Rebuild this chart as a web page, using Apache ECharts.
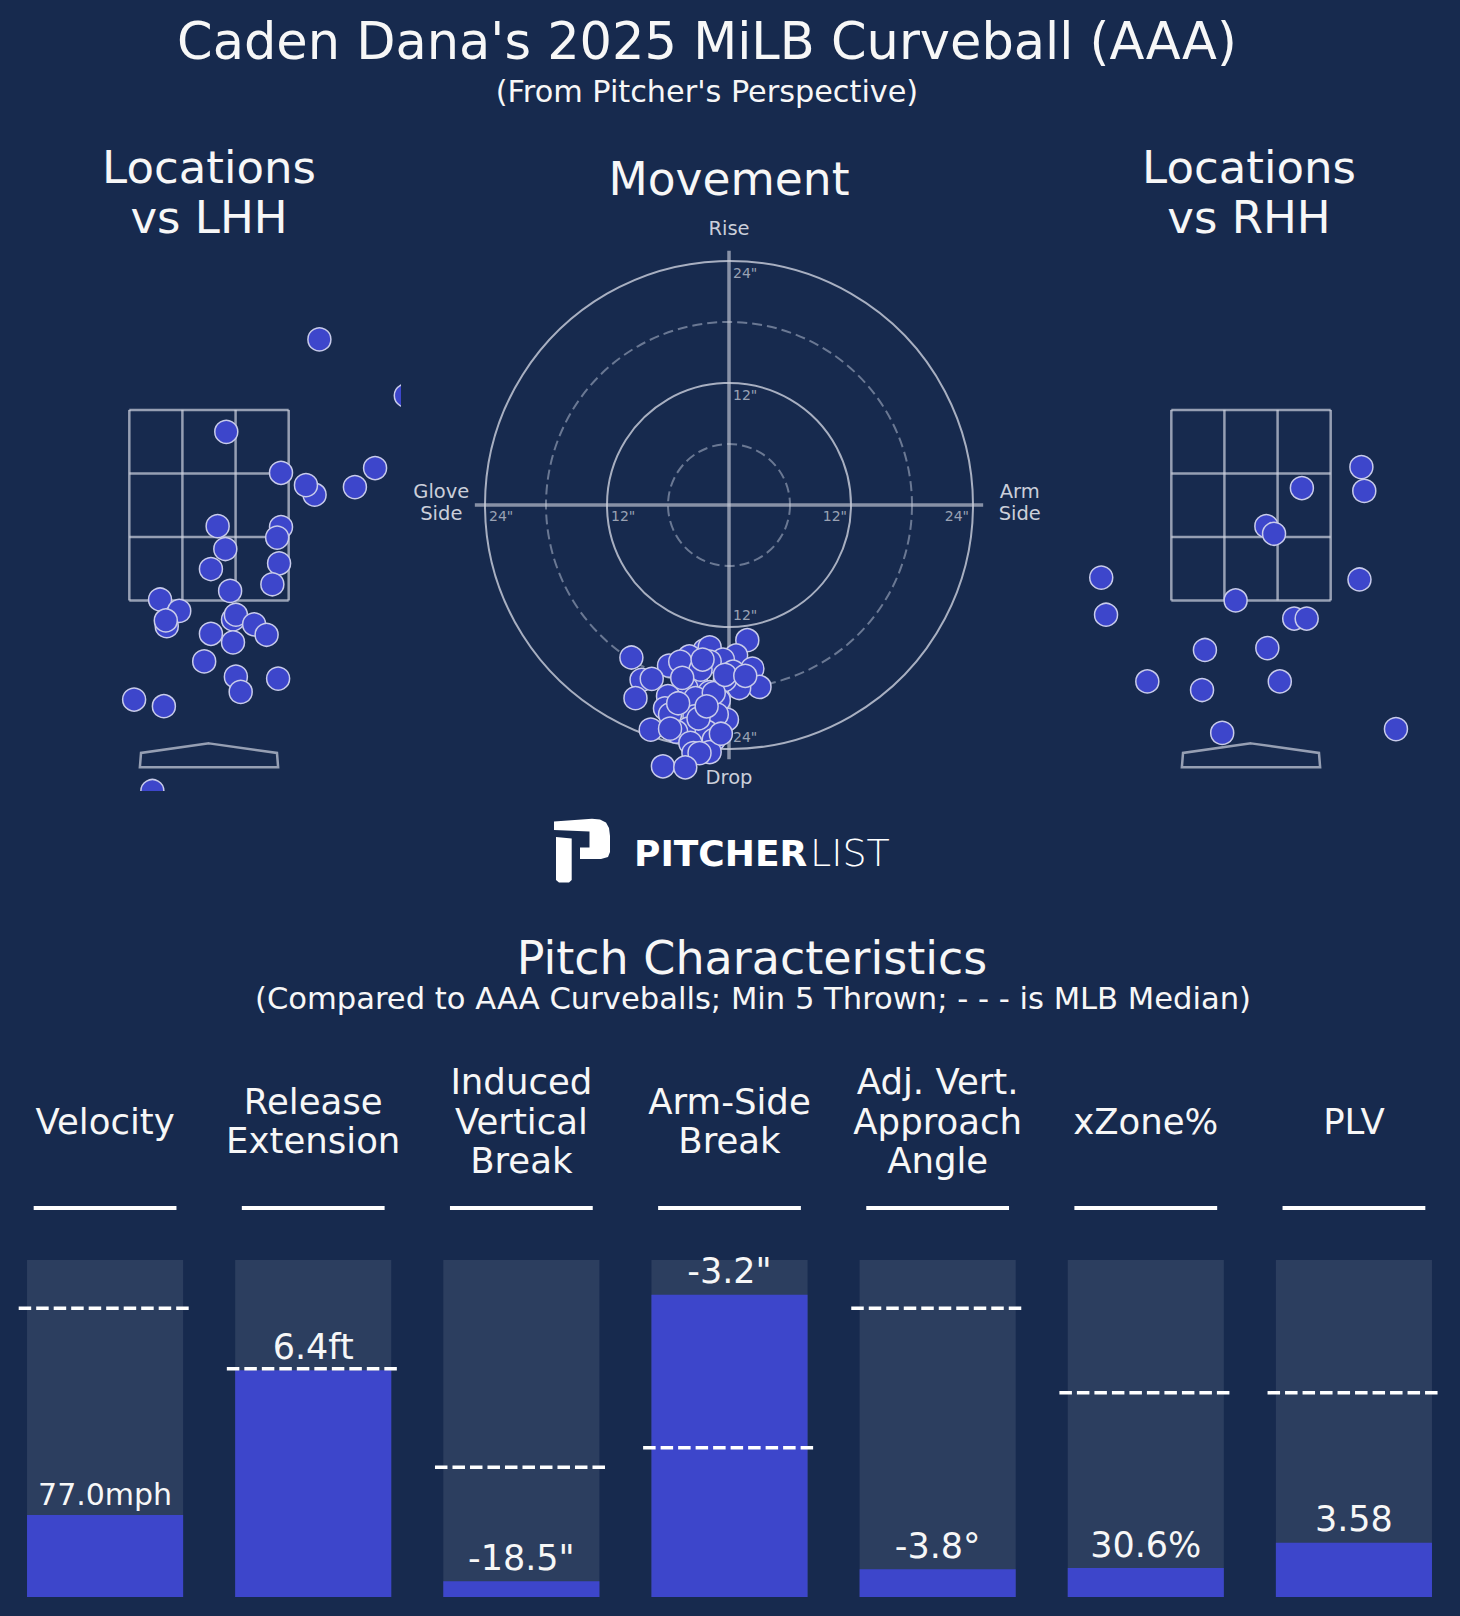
<!DOCTYPE html>
<html>
<head>
<meta charset="utf-8">
<script src="https://cdn.jsdelivr.net/npm/echarts@6/dist/echarts.min.js"></script>
<style>
html, body { margin: 0; padding: 0; background: #172a4e; }
#main { width: 1460px; height: 1616px; }
</style>
</head>
<body>
<div id="main"></div>
<script>
// pitch locations vs LHH / RHH (feet, pitcher's view)
var lhhX = [1.15, 2.05, 0.18, 0.75, 1.10, 1.01, 1.52, 1.73, 0.09, 0.75, 0.71, 0.17, 0.73, 0.02, 0.66, 0.22, -0.51, -0.31, -0.44, -0.45, 0.25, 0.28, 0.47, 0.60, 0.02, 0.25, -0.05, 0.28, 0.72, 0.33, -0.78, -0.47, -0.59];
var lhhY = [4.24, 3.65, 3.27, 2.84, 2.61, 2.71, 2.69, 2.89, 2.28, 2.27, 2.16, 2.04, 1.89, 1.83, 1.67, 1.60, 1.51, 1.39, 1.23, 1.29, 1.30, 1.35, 1.25, 1.14, 1.15, 1.06, 0.86, 0.70, 0.68, 0.54, 0.46, 0.39, -0.50];
var rhhX = [1.15, 1.18, 0.53, 0.16, 0.24, -1.56, 1.13, -1.51, -0.16, 0.45, 0.58, -0.48, 0.17, -1.08, -0.51, 0.30, -0.30, 1.51];
var rhhY = [2.90, 2.65, 2.68, 2.28, 2.20, 1.74, 1.72, 1.35, 1.50, 1.31, 1.31, 0.98, 1.00, 0.65, 0.56, 0.65, 0.11, 0.15];

// movement (inches): horizontal break (arm side +), induced vertical break
var moveHB = [1.8, -9.6, -2.4, -1.9, 0.7, -3.9, -0.6, 2.3, -5.9, -1.9, -4.8, 0.4, -8.6, -7.6, 3.0, 1.0, -0.4, -3.2, -1.9, -4.2, -6.0, -9.2, -1.0, -3.3, -6.3, -5.8, -3.4, -0.2, -1.2, -4.0, -7.7, -5.2, -2.2, -1.5, -3.8, -3.5, -1.9, -2.9, -6.5, -4.3, -5.8, -1.5, -0.4, -2.8, -3.0, -4.6, -2.2, -0.8, -2.6, -5.0, 1.6];
var moveIVB = [-13.3, -15.0, -14.3, -14.0, -14.8, -14.9, -15.2, -16.1, -15.8, -15.4, -15.4, -16.4, -17.2, -17.1, -17.9, -18.0, -17.2, -17.6, -18.4, -18.0, -18.8, -19.0, -19.2, -19.0, -20.0, -20.6, -20.8, -21.1, -20.6, -22.0, -22.1, -22.3, -22.3, -23.1, -23.4, -24.4, -24.3, -24.4, -25.7, -25.8, -22.0, -18.5, -16.7, -16.2, -21.0, -17.0, -19.8, -22.5, -15.2, -19.5, -16.8];
var ringRadii = [6, 12, 18, 24];
var ringTicks = [12, 24];

// strike zone and plate (feet)
var zoneX = [-0.83, -0.277, 0.277, 0.83];
var zoneY = [1.5, 2.167, 2.833, 3.5];
var plateX = [0, 0.708, 0.72, -0.72, -0.708];
var plateY = [0, -0.1, -0.25, -0.25, -0.1];

// pitch characteristics: percentile of bar, MLB median percentile, shown value
var statNames = ['Velocity', 'Release\nExtension', 'Induced\nVertical\nBreak', 'Arm-Side\nBreak', 'Adj. Vert.\nApproach\nAngle', 'xZone%', 'PLV'];
var statPct = [0.243, 0.673, 0.047, 0.897, 0.082, 0.086, 0.161];
var statMedian = [0.857, 0.677, 0.385, 0.443, 0.857, 0.606, 0.606];
var statLabels = ['77.0mph', '6.4ft', '-18.5"', '-3.2"', '-3.8\u00b0', '30.6%', '3.58'];

var BG = '#172a4e';
var POINT = '#3d46cb';
var EDGE = '#c8cbea';
var ZONE = 'rgba(205,209,222,0.7)';
var TXT = '#f7f7f7';
var FONT = '"DejaVu Sans", sans-serif';

var myChart = echarts.init(document.getElementById('main'), null, { renderer: 'svg', width: 1460, height: 1616 });

function pairs(xs, ys) {
    return xs.map(function (x, i) { return [x, ys[i]]; });
}

function txt(s, x, y, size, extra) {
    var st = {
        text: s, fill: TXT, fontSize: size, fontFamily: FONT,
        textAlign: 'center', align: 'center', textVerticalAlign: 'middle', verticalAlign: 'middle'
    };
    for (var k in (extra || {})) st[k] = extra[k];
    return { type: 'text', x: x, y: y, silent: true, style: st };
}

// dots drawn as circles so they get cut at the panel edge
function dotSeries(idx, xs, ys) {
    return {
        type: 'custom', xAxisIndex: idx, yAxisIndex: idx, clip: true, z: 5, silent: true,
        data: pairs(xs, ys),
        renderItem: function (params, api) {
            var c = api.coord([api.value(0), api.value(1)]);
            return {
                type: 'circle', shape: { cx: c[0], cy: c[1], r: 11.5 },
                style: { fill: POINT, stroke: EDGE, lineWidth: 1.5 }
            };
        }
    };
}

function zoneSeries(idx) {
    return {
        type: 'custom', xAxisIndex: idx, yAxisIndex: idx, clip: false, z: 2, silent: true,
        data: [[0, 0]],
        renderItem: function (params, api) {
            var kids = [];
            function seg(a, b) {
                var p = api.coord(a), q = api.coord(b);
                kids.push({ type: 'line', shape: { x1: p[0], y1: p[1], x2: q[0], y2: q[1] },
                    style: { stroke: ZONE, lineWidth: 2.5 } });
            }
            zoneX.forEach(function (x) { seg([x, zoneY[0]], [x, zoneY[3]]); });
            zoneY.forEach(function (y) { seg([zoneX[0], y], [zoneX[3], y]); });
            kids.push({
                type: 'polygon',
                shape: { points: pairs(plateX, plateY).map(function (p) { return api.coord(p); }) },
                style: { fill: 'none', stroke: ZONE, lineWidth: 2.5 }
            });
            return { type: 'group', children: kids };
        }
    };
}

// texts of the movement plot, anchored in inches
var moveText = [];
ringTicks.forEach(function (t) {
    var s = t + '"';
    moveText.push({ at: [-t, 0], s: s, dx: 4, dy: 11, align: 'left' });
    moveText.push({ at: [t, 0], s: s, dx: -4, dy: 11, align: 'right' });
    moveText.push({ at: [0, t], s: s, dx: 4, dy: 12, align: 'left' });
    moveText.push({ at: [0, -t], s: s, dx: 4, dy: -12, align: 'left' });
});
var tickCount = moveText.length;
moveText.push({ at: [0, 27.2], s: 'Rise', dx: 0, dy: 0, align: 'center' });
moveText.push({ at: [0, -26.8], s: 'Drop', dx: 0, dy: 0, align: 'center' });
moveText.push({ at: [-28.3, 0.2], s: 'Glove\nSide', dx: 0, dy: 0, align: 'center' });
moveText.push({ at: [28.6, 0.2], s: 'Arm\nSide', dx: 0, dy: 0, align: 'center' });

var option = {
    backgroundColor: BG,
    animation: false,
    textStyle: { fontFamily: FONT },
    grid: [
        { left: 17, top: 267, width: 384, height: 524 },
        { left: 424, top: 200, width: 610, height: 610 },
        { left: 1059, top: 267, width: 384, height: 524 },
        { left: 1, top: 1260, width: 1457, height: 337 }
    ],
    xAxis: [
        { gridIndex: 0, type: 'value', min: -2, max: 2, show: false },
        { gridIndex: 1, type: 'value', min: -30, max: 30, show: false },
        { gridIndex: 2, type: 'value', min: -2, max: 2, show: false },
        {
            gridIndex: 3, type: 'category', data: statNames, position: 'top',
            axisLine: { show: false }, axisTick: { show: false }, splitLine: { show: false },
            axisLabel: {
                margin: 139, verticalAlign: 'middle', fontSize: 35.5, lineHeight: 39.5,
                color: TXT, fontFamily: FONT, interval: 0
            }
        }
    ],
    yAxis: [
        { gridIndex: 0, type: 'value', min: -0.5, max: 5, show: false },
        { gridIndex: 1, type: 'value', min: -30, max: 30, show: false },
        { gridIndex: 2, type: 'value', min: -0.5, max: 5, show: false },
        { gridIndex: 3, type: 'value', min: 0, max: 1, show: false }
    ],
    graphic: [
        txt("Caden Dana's 2025 MiLB Curveball (AAA)", 707, 41, 51),
        txt("(From Pitcher's Perspective)", 707, 91, 30.3),
        txt('Locations\nvs LHH', 209, 192, 45, { lineHeight: 50 }),
        txt('Movement', 729, 179, 45.5),
        txt('Locations\nvs RHH', 1249, 192, 45, { lineHeight: 50 }),
        txt('Pitch Characteristics', 752, 958, 46),
        txt('(Compared to AAA Curveballs; Min 5 Thrown; - - - is MLB Median)', 753, 998, 30.6),
        // Pitcher List logo
        {
            type: 'polygon', silent: true,
            shape: { points: [[554, 821.5], [592, 818.8], [600, 819.5], [606, 822.5], [609, 828], [610, 836], [610, 852], [608, 857], [601, 859], [580, 859], [580, 847.5], [589.5, 847.5], [589.5, 831.5], [554, 830]] },
            style: { fill: '#ffffff' }
        },
        {
            type: 'polygon', silent: true,
            shape: { points: [[556, 837], [571.7, 838.5], [571.7, 880], [569, 882.5], [559, 882.5], [556, 880]] },
            style: { fill: '#ffffff' }
        },
        txt('PITCHER', 634, 853, 36, { fontWeight: 'bold', textAlign: 'left', align: 'left', fill: '#ffffff' }),
        txt('LIST', 810, 853, 38, { fontWeight: 200, textAlign: 'left', align: 'left', fill: '#ffffff' })
    ],
    series: [
        zoneSeries(0),
        dotSeries(0, lhhX, lhhY),
        zoneSeries(2),
        dotSeries(2, rhhX, rhhY),
        {
            type: 'custom', xAxisIndex: 1, yAxisIndex: 1, clip: false, silent: true, z: 2,
            data: ringRadii.map(function (r) { return [0, 0, r]; }),
            renderItem: function (params, api) {
                var c = api.coord([0, 0]);
                var rad = api.value(2);
                var r = api.size([rad, 0])[0];
                var solid = rad % 12 === 0;
                return {
                    type: 'circle', shape: { cx: c[0], cy: c[1], r: r },
                    style: {
                        fill: 'none', lineWidth: 2,
                        stroke: solid ? 'rgba(200,205,218,0.82)' : 'rgba(128,140,165,0.8)',
                        lineDash: solid ? null : [10, 5]
                    }
                };
            }
        },
        {
            type: 'custom', xAxisIndex: 1, yAxisIndex: 1, clip: false, silent: true, z: 3,
            data: [[-25, 0, 25, 0], [0, -25, 0, 25]],
            renderItem: function (params, api) {
                var a = api.coord([api.value(0), api.value(1)]);
                var b = api.coord([api.value(2), api.value(3)]);
                return {
                    type: 'line', shape: { x1: a[0], y1: a[1], x2: b[0], y2: b[1] },
                    style: { stroke: 'rgba(196,201,214,0.65)', lineWidth: 3.5 }
                };
            }
        },
        {
            type: 'custom', xAxisIndex: 1, yAxisIndex: 1, clip: false, silent: true, z: 3,
            data: moveText.map(function (m) { return m.at; }),
            renderItem: function (params, api) {
                var m = moveText[params.dataIndex];
                var c = api.coord(m.at);
                var isTick = params.dataIndex < tickCount;
                return {
                    type: 'text', x: c[0] + m.dx, y: c[1] + m.dy,
                    style: {
                        text: m.s, fill: isTick ? '#9aa2b4' : '#cbcfda',
                        fontSize: isTick ? 14 : 19.5, fontFamily: FONT, lineHeight: 22,
                        textAlign: m.align, align: m.align,
                        textVerticalAlign: 'middle', verticalAlign: 'middle'
                    }
                };
            }
        },
        {
            type: 'scatter', xAxisIndex: 1, yAxisIndex: 1, z: 5, silent: true,
            symbolSize: 23,
            itemStyle: { color: POINT, borderColor: EDGE, borderWidth: 1.5, opacity: 1 },
            data: pairs(moveHB, moveIVB)
        },
        {
            type: 'bar', xAxisIndex: 3, yAxisIndex: 3, silent: true, z: 1,
            barWidth: '75%', barGap: '-100%',
            itemStyle: { color: '#2c3e5f' },
            data: statNames.map(function () { return 1; })
        },
        {
            type: 'bar', xAxisIndex: 3, yAxisIndex: 3, silent: true, z: 2,
            barWidth: '75%', barGap: '-100%',
            itemStyle: { color: '#3d46cb' },
            label: {
                show: true, position: 'top', distance: 6,
                fontSize: 35, color: TXT, fontFamily: FONT,
                formatter: function (p) { return statLabels[p.dataIndex]; }
            },
            // long value texts are set a bit smaller
            data: statPct.map(function (v, i) {
                return statLabels[i].length > 6 ? { value: v, label: { fontSize: 30 } } : v;
            })
        },
        {
            type: 'custom', xAxisIndex: 3, yAxisIndex: 3, clip: false, silent: true, z: 4,
            data: statMedian.map(function (m, i) { return [i, m]; }),
            renderItem: function (params, api) {
                var c = api.coord([api.value(0), api.value(1)]);
                var half = api.size([1, 0])[0] * 0.415;
                return {
                    type: 'line', shape: { x1: c[0] - half, y1: c[1], x2: c[0] + half, y2: c[1] },
                    style: { stroke: '#ffffff', lineWidth: 3.5, lineDash: [12.5, 5] }
                };
            }
        },
        {
            type: 'custom', xAxisIndex: 3, yAxisIndex: 3, clip: false, silent: true, z: 4,
            data: statNames.map(function (n, i) { return [i, 1]; }),
            renderItem: function (params, api) {
                var c = api.coord([api.value(0), 1]);
                var half = api.size([1, 0])[0] * 0.343;
                var y = c[1] - 52;
                return {
                    type: 'line', shape: { x1: c[0] - half, y1: y, x2: c[0] + half, y2: y },
                    style: { stroke: '#ffffff', lineWidth: 4 }
                };
            }
        }
    ]
};

myChart.setOption(option);
</script>
</body>
</html>
